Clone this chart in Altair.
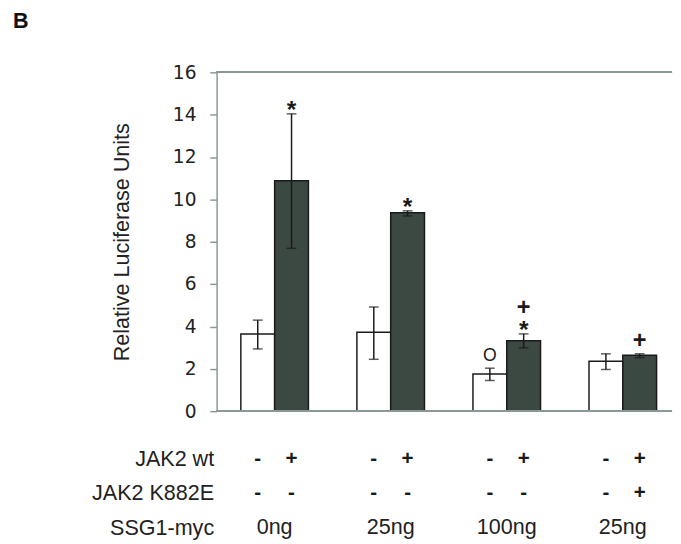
import altair as alt
import pandas as pd

# ---- data ----
panel_label = "B"
groups = [1, 2, 3, 4]
ssg1_labels = ["0ng", "25ng", "100ng", "25ng"]
bar_kinds = ["ctrl", "wt"]

white_mean = [3.64, 3.73, 1.76, 2.36]
white_lo = [2.94, 2.45, 1.45, 1.97]
white_hi = [4.30, 4.92, 2.03, 2.71]
dark_mean = [10.88, 9.37, 3.33, 2.64]
dark_lo = [7.69, 9.22, 2.99, 2.53]
dark_hi = [14.04, 9.46, 3.65, 2.71]

jak2_wt_signs = ["-", "+", "-", "+", "-", "+", "-", "+"]
jak2_k882e_signs = ["-", "-", "-", "-", "-", "-", "-", "+"]
row_names = ["JAK2 wt", "JAK2 K882E", "SSG1-myc"]

ann_group = [1, 2, 3, 3, 4, 3]
ann_kind = ["wt", "wt", "ctrl", "wt", "wt", "wt"]
ann_text = ["*", "*", "O", "*", "+", "+"]
ann_level = [0, 0, 0, 0, 0, 1]

# ---- tables ----
rows = []
for i, g in enumerate(groups):
    rows.append(dict(group=g, kind="ctrl", mean=white_mean[i], lo=white_lo[i], hi=white_hi[i]))
    rows.append(dict(group=g, kind="wt", mean=dark_mean[i], lo=dark_lo[i], hi=dark_hi[i]))
df = pd.DataFrame(rows)

hi_lookup = {(r["group"], r["kind"]): r["hi"] for r in rows}
ann = pd.DataFrame(dict(group=ann_group, kind=ann_kind, text=ann_text, level=ann_level))
ann["y"] = [hi_lookup[(g, k)] for g, k in zip(ann_group, ann_kind)]

sign_rows = []
for i, g in enumerate(groups):
    for j, k in enumerate(bar_kinds):
        sign_rows.append(dict(group=g, kind=k, row=row_names[0], text=jak2_wt_signs[2 * i + j]))
        sign_rows.append(dict(group=g, kind=k, row=row_names[1], text=jak2_k882e_signs[2 * i + j]))
signs = pd.DataFrame(sign_rows)
ssg = pd.DataFrame(dict(group=groups, row=row_names[2], text=ssg1_labels))

# ---- scales ----
W, H = 465, 346
GRAY = "#8c9898"
DARK = "#3c4842"
INK = "#1a1a1a"

xscale = alt.Scale(domain=groups, range=[0, 474], paddingInner=0, paddingOuter=0)
offscale = alt.Scale(domain=bar_kinds, paddingInner=0, paddingOuter=0.717)
yscale = alt.Scale(domain=[0, 16], nice=False)

X = alt.X("group:O", scale=xscale, axis=None)
XO = alt.XOffset("kind:N", scale=offscale)

base = alt.Chart(df)

bars = base.mark_bar(stroke=INK, strokeWidth=1.5).encode(
    x=X, xOffset=XO,
    y=alt.Y("mean:Q", scale=yscale, axis=alt.Axis(
        values=list(range(0, 17, 2)), grid=False, tickSize=7, tickColor=GRAY,
        tickWidth=1.5, domainColor=GRAY, domainWidth=1.5,
        labelFont="DejaVu Sans", labelFontSize=19, labelColor="#222",
        labelPadding=14, title="Relative Luciferase Units",
        titleFont="Liberation Sans", titleFontSize=22, titleFontWeight="normal",
        titleColor="#222", titlePadding=40)),
    fill=alt.Fill("kind:N", scale=alt.Scale(domain=bar_kinds, range=["white", DARK]), legend=None),
)

err = base.mark_rule(color=INK, strokeWidth=1.5).encode(
    x=X, xOffset=XO, y=alt.Y("lo:Q", scale=yscale), y2="hi:Q")

caps = base.transform_fold(["lo", "hi"], as_=["end", "val"]).mark_tick(
    color=INK, thickness=1.5, size=10, orient="horizontal").encode(
    x=X, xOffset=XO, y=alt.Y("val:Q", scale=yscale))

frame_top = alt.Chart(df).mark_rule(color=GRAY, strokeWidth=1.5).encode(
    x=alt.value(0), x2=alt.value(W), y=alt.datum(16, scale=yscale))
frame_bot = alt.Chart(df).mark_rule(color=GRAY, strokeWidth=1.5).encode(
    x=alt.value(0), x2=alt.value(W), y=alt.datum(0, scale=yscale))

ann_base = alt.Chart(ann).encode(
    x=X, xOffset=XO, y=alt.Y("y:Q", scale=yscale), text="text:N")
star_txt = ann_base.transform_filter("datum.text == '*'").mark_text(
    font="Liberation Sans", fontSize=25, fontWeight="bold", color=INK,
    baseline="middle", dy=-4)
plus_txt = ann_base.transform_filter("datum.text == '+' && datum.level == 0").mark_text(
    font="Liberation Sans", fontSize=24, fontWeight="bold", color=INK,
    baseline="middle", dy=-13)
plus2_txt = ann_base.transform_filter("datum.text == '+' && datum.level == 1").mark_text(
    font="Liberation Sans", fontSize=24, fontWeight="bold", color=INK,
    baseline="middle", dy=-26)
o_txt = ann_base.transform_filter("datum.text == 'O'").mark_text(
    font="Liberation Sans", fontSize=18, color=INK,
    baseline="middle", dy=-12)

panel = alt.Chart(pd.DataFrame({"label": [panel_label]})).mark_text(
    font="Liberation Sans", fontSize=22, fontWeight="bold", color="#111",
    align="left", baseline="top").encode(
    x=alt.value(-208), y=alt.value(-62), text="label:N")

top = alt.layer(frame_top, bars, err, caps, frame_bot,
                star_txt, plus_txt, plus2_txt, o_txt, panel).properties(width=W, height=H)

Y2 = alt.Y("row:N", scale=alt.Scale(type="point", domain=row_names, padding=0.4286),
           axis=alt.Axis(domain=False, ticks=False, labelFont="Liberation Sans",
                         labelFontSize=22, labelColor="#222", labelPadding=3, title=None))

sign_txt = alt.Chart(signs).mark_text(
    font="Liberation Sans", fontSize=21, fontWeight="bold", color=INK).encode(
    x=X, xOffset=XO, y=Y2, text="text:N")
ssg_txt = alt.Chart(ssg).mark_text(
    font="Liberation Sans", fontSize=22, color="#222").encode(
    x=X, y=Y2, text="text:N")

table = alt.layer(sign_txt, ssg_txt).properties(width=W, height=100)

chart = alt.vconcat(top, table, spacing=23.5).properties(
    padding={"left": 5, "top": -3, "right": 0, "bottom": 0},
).configure_view(stroke=None).resolve_scale(x="shared")

chart.save("out.html", embed_options={"renderer": "svg", "actions": False})
